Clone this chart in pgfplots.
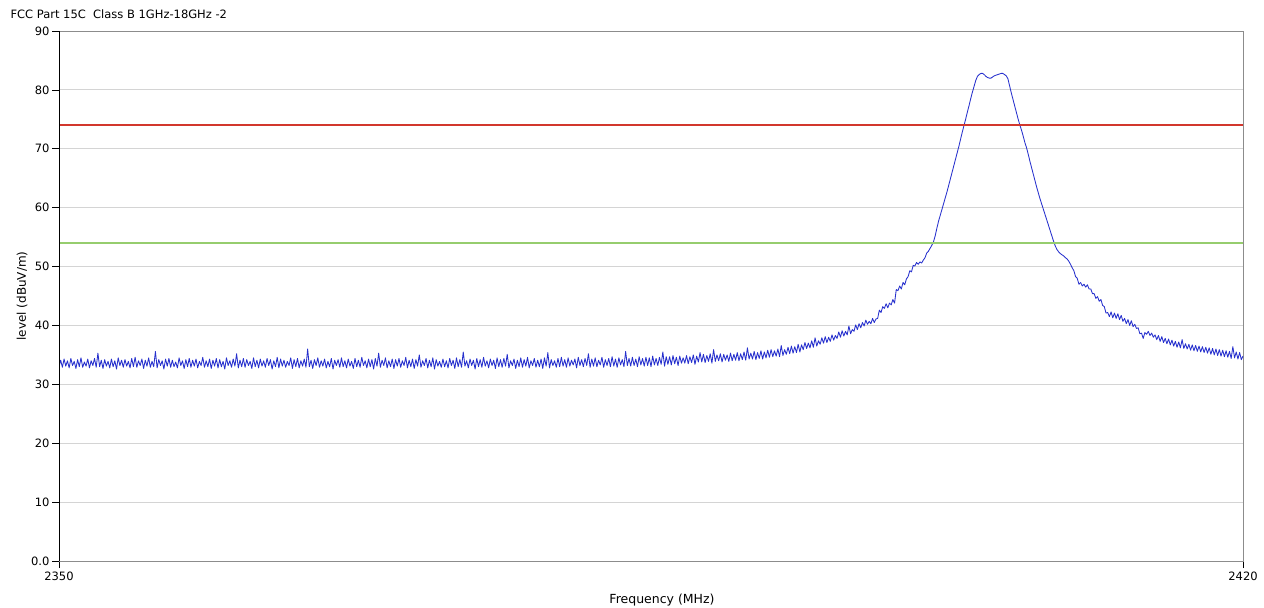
\documentclass[border=0pt]{standalone}
\usepackage{pgfplots}
\pgfplotsset{compat=1.18}
\usepackage{fontspec}
\setmainfont{DejaVu Sans}
\definecolor{trace}{RGB}{38,48,205}
\definecolor{limred}{RGB}{210,55,45}
\definecolor{limgreen}{RGB}{150,205,110}
\definecolor{gridgray}{RGB}{212,212,212}
\definecolor{framegray}{RGB}{140,140,140}
\newcommand{\chartfont}{\fontsize{11.5}{13.5}\selectfont}
\begin{document}
\begin{tikzpicture}
\begin{axis}[
    name=ax,
    scale only axis,
    width=1184pt, height=530pt,
    xmin=2350, xmax=2420, ymin=0, ymax=90,
    xtick={2350,2420},
    ytick={0,10,...,90},
    yticklabels={0.0,10,20,30,40,50,60,70,80,90},
    /pgf/number format/assume math mode=true,
    /pgf/number format/1000 sep={},
    tick pos=left, tick align=outside,
    major tick length=7pt,
    tick style={black, line width=0.6pt},
    ymajorgrids,
    grid style={gridgray, line width=0.8pt},
    axis line style={framegray, line width=0.8pt},
    tick label style={font=\chartfont},
    yticklabel style={xshift=1pt},
    label style={font=\chartfont},
    xlabel={Frequency (MHz)},
    ylabel={level (dBuV/m)},
    every axis x label/.style={at={(axis description cs:0.5,0)}, xshift=11pt, yshift=-42pt, anchor=base, font=\fontsize{12.5}{14}\selectfont},
    every axis y label/.style={at={(axis description cs:0,0.5)}, xshift=-37pt, rotate=90, anchor=center, font=\fontsize{12}{14}\selectfont},
    title={FCC Part 15C\ \ Class B 1GHz-18GHz -2},
    every axis title/.style={at={(axis description cs:0,1)}, xshift=-52pt, yshift=12pt, anchor=base west, font=\chartfont},
]
\addplot[trace, line width=0.85pt, line join=round] coordinates {
(2350.0,33.0)(2350.1,34.1)(2350.2,32.9)(2350.3,34.3)(2350.4,33.1)(2350.5,34.0)(2350.6,32.8)(2350.7,34.4)(2350.8,33.2)(2350.9,33.9)
(2351.0,32.7)(2351.1,34.2)(2351.2,33.0)(2351.3,34.5)(2351.4,32.9)(2351.5,33.8)(2351.6,33.1)(2351.7,34.3)(2351.8,32.8)(2351.9,34.0)
(2352.0,33.2)(2352.1,34.4)(2352.2,32.9)(2352.3,35.3)(2352.4,33.0)(2352.5,34.1)(2352.6,32.7)(2352.7,34.2)(2352.8,33.1)(2352.9,33.9)
(2353.0,32.8)(2353.1,34.3)(2353.2,33.0)(2353.3,34.0)(2353.4,32.6)(2353.5,34.5)(2353.6,33.2)(2353.7,34.1)(2353.8,32.9)(2353.9,34.2)
(2354.0,33.1)(2354.1,33.9)(2354.2,32.8)(2354.3,34.4)(2354.4,33.0)(2354.5,34.6)(2354.6,32.9)(2354.7,34.0)(2354.8,33.2)(2354.9,34.3)
(2355.0,32.7)(2355.1,34.1)(2355.2,33.1)(2355.3,34.5)(2355.4,32.9)(2355.5,33.9)(2355.6,33.0)(2355.7,35.6)(2355.8,32.8)(2355.9,34.2)
(2356.0,33.2)(2356.1,34.0)(2356.2,32.6)(2356.3,34.3)(2356.4,33.1)(2356.5,34.4)(2356.6,32.9)(2356.7,34.1)(2356.8,33.0)(2356.9,33.8)
(2357.0,32.8)(2357.1,34.5)(2357.2,33.2)(2357.3,34.0)(2357.4,32.7)(2357.5,34.2)(2357.6,33.0)(2357.7,34.4)(2357.8,32.9)(2357.9,34.1)
(2358.0,33.1)(2358.1,34.3)(2358.2,32.8)(2358.3,33.9)(2358.4,33.2)(2358.5,34.6)(2358.6,32.9)(2358.7,34.0)(2358.8,33.0)(2358.9,34.3)
(2359.0,32.7)(2359.1,34.1)(2359.2,33.1)(2359.3,34.4)(2359.4,32.8)(2359.5,34.2)(2359.6,33.0)(2359.7,33.9)(2359.8,32.6)(2359.9,34.5)
(2360.0,33.2)(2360.1,34.0)(2360.2,32.9)(2360.3,34.3)(2360.4,33.1)(2360.5,35.2)(2360.6,32.8)(2360.7,34.1)(2360.8,33.0)(2360.9,34.4)
(2361.0,32.9)(2361.1,34.2)(2361.2,33.2)(2361.3,33.9)(2361.4,32.7)(2361.5,34.5)(2361.6,33.0)(2361.7,34.1)(2361.8,32.8)(2361.9,34.3)
(2362.0,33.1)(2362.1,34.0)(2362.2,32.9)(2362.3,34.4)(2362.4,33.2)(2362.5,34.2)(2362.6,32.6)(2362.7,34.0)(2362.8,33.0)(2362.9,34.6)
(2363.0,32.8)(2363.1,34.3)(2363.2,33.1)(2363.3,34.1)(2363.4,32.9)(2363.5,33.9)(2363.6,33.2)(2363.7,34.5)(2363.8,32.7)(2363.9,34.2)
(2364.0,33.0)(2364.1,34.4)(2364.2,32.8)(2364.3,34.0)(2364.4,33.1)(2364.5,34.3)(2364.6,32.9)(2364.7,36.0)(2364.8,33.0)(2364.9,34.1)
(2365.0,32.7)(2365.1,34.2)(2365.2,33.2)(2365.3,34.5)(2365.4,32.9)(2365.5,34.0)(2365.6,33.1)(2365.7,34.3)(2365.8,32.8)(2365.9,33.9)
(2366.0,33.0)(2366.1,34.4)(2366.2,32.6)(2366.3,34.1)(2366.4,33.2)(2366.5,34.2)(2366.6,32.9)(2366.7,34.5)(2366.8,33.0)(2366.9,34.0)
(2367.0,32.8)(2367.1,34.3)(2367.2,33.1)(2367.3,33.9)(2367.4,32.7)(2367.5,34.4)(2367.6,33.0)(2367.7,34.1)(2367.8,32.9)(2367.9,34.6)
(2368.0,33.2)(2368.1,34.0)(2368.2,32.8)(2368.3,34.3)(2368.4,33.0)(2368.5,34.2)(2368.6,32.6)(2368.7,34.4)(2368.8,33.1)(2368.9,35.3)
(2369.0,32.9)(2369.1,34.1)(2369.2,33.2)(2369.3,34.5)(2369.4,32.8)(2369.5,34.0)(2369.6,33.0)(2369.7,34.3)(2369.8,32.7)(2369.9,34.2)
(2370.0,33.1)(2370.1,34.4)(2370.2,32.9)(2370.3,34.0)(2370.4,33.2)(2370.5,34.6)(2370.6,32.8)(2370.7,34.1)(2370.8,33.0)(2370.9,34.3)
(2371.0,32.7)(2371.1,34.2)(2371.2,33.1)(2371.3,35.0)(2371.4,32.9)(2371.5,34.0)(2371.6,33.2)(2371.7,34.4)(2371.8,32.8)(2371.9,34.1)
(2372.0,33.0)(2372.1,34.5)(2372.2,32.6)(2372.3,34.2)(2372.4,33.1)(2372.5,33.9)(2372.6,32.9)(2372.7,34.3)(2372.8,33.0)(2372.9,34.0)
(2373.0,32.8)(2373.1,34.4)(2373.2,33.2)(2373.3,34.1)(2373.4,32.7)(2373.5,34.5)(2373.6,33.0)(2373.7,34.2)(2373.8,32.9)(2373.9,35.5)
(2374.0,33.1)(2374.1,34.0)(2374.2,32.8)(2374.3,34.3)(2374.4,33.2)(2374.5,34.1)(2374.6,32.6)(2374.7,34.4)(2374.8,33.0)(2374.9,34.2)
(2375.0,32.9)(2375.1,34.6)(2375.2,33.1)(2375.3,34.0)(2375.4,32.8)(2375.5,34.3)(2375.6,33.2)(2375.7,34.1)(2375.8,32.7)(2375.9,34.5)
(2376.0,33.0)(2376.1,34.2)(2376.2,32.9)(2376.3,34.4)(2376.4,33.1)(2376.5,35.1)(2376.6,32.8)(2376.7,34.0)(2376.8,33.2)(2376.9,34.3)
(2377.0,32.7)(2377.1,34.1)(2377.2,33.0)(2377.3,34.5)(2377.4,32.9)(2377.5,34.2)(2377.6,33.1)(2377.7,34.6)(2377.8,32.8)(2377.9,34.0)
(2378.0,33.2)(2378.1,34.4)(2378.2,32.9)(2378.3,34.1)(2378.4,33.0)(2378.5,34.3)(2378.6,32.7)(2378.7,34.5)(2378.8,33.1)(2378.9,35.4)
(2379.0,32.8)(2379.1,34.2)(2379.2,33.2)(2379.3,34.0)(2379.4,32.9)(2379.5,34.4)(2379.6,33.0)(2379.7,34.6)(2379.8,33.1)(2379.9,34.2)
(2380.0,32.9)(2380.1,34.5)(2380.2,33.1)(2380.3,34.1)(2380.4,33.3)(2380.5,34.3)(2380.6,32.8)(2380.7,34.6)(2380.8,33.2)(2380.9,34.2)
(2381.0,33.0)(2381.1,34.4)(2381.2,33.2)(2381.3,35.2)(2381.4,32.9)(2381.5,34.3)(2381.6,33.1)(2381.7,34.5)(2381.8,33.0)(2381.9,34.1)
(2382.0,33.3)(2382.1,34.6)(2382.2,32.9)(2382.3,34.2)(2382.4,33.2)(2382.5,34.4)(2382.6,33.0)(2382.7,34.7)(2382.8,33.1)(2382.9,34.3)
(2383.0,32.9)(2383.1,34.5)(2383.2,33.3)(2383.3,34.2)(2383.4,33.0)(2383.5,35.6)(2383.6,33.2)(2383.7,34.4)(2383.8,33.1)(2383.9,34.6)
(2384.0,33.2)(2384.1,34.3)(2384.2,33.0)(2384.3,34.7)(2384.4,33.3)(2384.5,34.4)(2384.6,33.1)(2384.7,34.6)(2384.8,33.2)(2384.9,34.5)
(2385.0,33.0)(2385.1,34.8)(2385.2,33.3)(2385.3,34.4)(2385.4,33.2)(2385.5,34.6)(2385.6,33.4)(2385.7,35.5)(2385.8,33.1)(2385.9,34.7)
(2386.0,33.4)(2386.1,34.7)(2386.2,33.3)(2386.3,34.9)(2386.4,33.5)(2386.5,34.6)(2386.6,33.2)(2386.7,34.8)(2386.8,33.6)(2386.9,34.5)
(2387.0,33.6)(2387.1,34.9)(2387.2,33.5)(2387.3,34.7)(2387.4,33.7)(2387.5,35.0)(2387.6,33.4)(2387.7,34.8)(2387.8,33.8)(2387.9,35.4)
(2388.0,33.8)(2388.1,35.1)(2388.2,33.7)(2388.3,34.9)(2388.4,33.9)(2388.5,35.2)(2388.6,33.6)(2388.7,35.9)(2388.8,33.9)(2388.9,35.0)
(2389.0,34.0)(2389.1,35.2)(2389.2,33.8)(2389.3,35.1)(2389.4,34.1)(2389.5,35.0)(2389.6,33.9)(2389.7,35.3)(2389.8,34.0)(2389.9,35.1)
(2390.0,34.1)(2390.1,35.4)(2390.2,34.0)(2390.3,35.2)(2390.4,34.2)(2390.5,35.5)(2390.6,34.1)(2390.7,36.2)(2390.8,34.3)(2390.9,35.3)
(2391.0,34.3)(2391.1,35.6)(2391.2,34.2)(2391.3,35.4)(2391.4,34.4)(2391.5,35.7)(2391.6,34.3)(2391.7,35.5)(2391.8,34.5)(2391.9,35.8)
(2392.0,34.6)(2392.1,35.9)(2392.2,34.7)(2392.3,35.7)(2392.4,34.8)(2392.5,36.0)(2392.6,34.7)(2392.7,36.6)(2392.8,34.9)(2392.9,35.9)
(2393.0,35.1)(2393.1,36.3)(2393.2,35.2)(2393.3,36.5)(2393.4,35.3)(2393.5,36.4)(2393.6,35.4)(2393.7,36.8)(2393.8,35.5)(2393.9,36.7)
(2394.0,35.9)(2394.1,37.1)(2394.2,36.1)(2394.3,37.0)(2394.4,36.2)(2394.5,37.4)(2394.6,36.3)(2394.7,37.9)(2394.8,36.5)(2394.9,37.4)
(2395.0,36.8)(2395.1,37.9)(2395.2,37.0)(2395.3,38.1)(2395.4,37.1)(2395.5,38.0)(2395.6,37.3)(2395.7,38.4)(2395.8,37.5)(2395.9,38.3)
(2396.0,37.8)(2396.1,38.9)(2396.2,38.0)(2396.3,39.1)(2396.4,38.2)(2396.5,39.0)(2396.6,38.4)(2396.7,39.9)(2396.8,38.6)(2396.9,39.3)
(2397.0,39.0)(2397.1,40.1)(2397.2,39.3)(2397.3,40.3)(2397.4,39.6)(2397.5,40.5)(2397.6,39.9)(2397.7,40.9)(2397.8,40.2)(2397.9,40.7)
(2398.0,40.3)(2398.1,41.2)(2398.2,40.5)(2398.3,41.1)(2398.4,41.2)(2398.5,42.6)(2398.6,42.2)(2398.7,43.2)(2398.8,42.9)(2398.9,43.7)
(2399.0,43.0)(2399.1,43.8)(2399.2,43.5)(2399.3,44.4)(2399.4,43.8)(2399.5,46.1)(2399.6,45.9)(2399.7,46.7)(2399.8,46.2)(2399.9,47.3)
(2400.0,46.9)(2400.1,47.9)(2400.2,48.3)(2400.3,49.3)(2400.4,49.1)(2400.5,50.2)(2400.6,50.1)(2400.7,50.7)(2400.8,50.4)(2400.9,50.8)
(2401.0,50.6)(2401.1,51.1)(2401.2,51.5)(2401.3,52.3)(2401.4,52.6)(2401.5,53.1)(2401.6,53.6)(2401.7,54.2)(2401.8,55.2)(2401.9,56.5)
(2402.0,57.7)(2402.1,58.7)(2402.2,59.7)(2402.3,60.7)(2402.4,61.7)(2402.5,62.7)(2402.6,63.8)(2402.7,64.9)(2402.8,66.0)(2402.9,67.1)
(2403.0,68.2)(2403.1,69.3)(2403.2,70.4)(2403.3,71.6)(2403.4,72.8)(2403.5,73.9)(2403.6,75.0)(2403.7,76.2)(2403.8,77.3)(2403.9,78.5)
(2404.0,79.6)(2404.1,80.6)(2404.2,81.6)(2404.3,82.3)(2404.4,82.6)(2404.5,82.8)(2404.6,82.8)(2404.7,82.6)(2404.8,82.3)(2404.9,82.1)
(2405.0,82.0)(2405.1,82.0)(2405.2,82.2)(2405.3,82.4)(2405.4,82.5)(2405.5,82.6)(2405.6,82.7)(2405.7,82.8)(2405.8,82.8)(2405.9,82.6)
(2406.0,82.4)(2406.1,81.9)(2406.2,80.7)(2406.3,79.5)(2406.4,78.4)(2406.5,77.3)(2406.6,76.2)(2406.7,75.1)(2406.8,74.1)(2406.9,73.2)
(2407.0,72.2)(2407.1,71.1)(2407.2,70.2)(2407.3,69.1)(2407.4,67.9)(2407.5,66.8)(2407.6,65.7)(2407.7,64.6)(2407.8,63.5)(2407.9,62.5)
(2408.0,61.5)(2408.1,60.6)(2408.2,59.7)(2408.3,58.8)(2408.4,57.9)(2408.5,57.0)(2408.6,56.1)(2408.7,55.2)(2408.8,54.3)(2408.9,53.5)
(2409.0,52.9)(2409.1,52.5)(2409.2,52.2)(2409.3,52.0)(2409.4,51.8)(2409.5,51.5)(2409.6,51.3)(2409.7,50.9)(2409.8,50.4)(2409.9,49.8)
(2410.0,49.3)(2410.1,48.3)(2410.2,48.0)(2410.3,47.0)(2410.4,47.3)(2410.5,46.7)(2410.6,47.0)(2410.7,46.5)(2410.8,46.9)(2410.9,46.2)
(2411.0,46.2)(2411.1,45.4)(2411.2,45.4)(2411.3,44.6)(2411.4,44.9)(2411.5,44.1)(2411.6,44.4)(2411.7,43.4)(2411.8,43.2)(2411.9,42.1)
(2412.0,42.2)(2412.1,41.5)(2412.2,42.3)(2412.3,41.3)(2412.4,42.1)(2412.5,41.2)(2412.6,42.0)(2412.7,41.0)(2412.8,41.7)(2412.9,40.7)
(2413.0,41.2)(2413.1,40.3)(2413.2,41.0)(2413.3,40.0)(2413.4,40.8)(2413.5,39.8)(2413.6,40.2)(2413.7,39.5)(2413.8,39.6)(2413.9,38.6)
(2414.0,38.7)(2414.1,37.8)(2414.2,38.8)(2414.3,38.5)(2414.4,39.0)(2414.5,38.3)(2414.6,38.7)(2414.7,38.0)(2414.8,38.4)(2414.9,37.6)
(2415.0,38.3)(2415.1,37.3)(2415.2,38.1)(2415.3,37.1)(2415.4,37.8)(2415.5,36.9)(2415.6,37.7)(2415.7,36.7)(2415.8,37.5)(2415.9,36.5)
(2416.0,37.3)(2416.1,36.3)(2416.2,37.2)(2416.3,36.2)(2416.4,37.6)(2416.5,36.1)(2416.6,36.9)(2416.7,36.0)(2416.8,36.8)(2416.9,35.8)
(2417.0,36.7)(2417.1,35.7)(2417.2,36.6)(2417.3,35.6)(2417.4,36.5)(2417.5,35.5)(2417.6,36.4)(2417.7,35.4)(2417.8,36.3)(2417.9,35.3)
(2418.0,36.2)(2418.1,35.1)(2418.2,36.1)(2418.3,35.0)(2418.4,36.0)(2418.5,34.9)(2418.6,35.9)(2418.7,34.8)(2418.8,35.8)(2418.9,34.7)
(2419.0,35.7)(2419.1,34.6)(2419.2,35.6)(2419.3,34.4)(2419.4,36.4)(2419.5,34.5)(2419.6,35.5)(2419.7,34.3)(2419.8,35.4)(2419.9,34.2)
(2420.0,34.8)
};
\addplot[color=limred, mark=none, line width=1.5pt] coordinates {(2350,74) (2420,74)};
\addplot[color=limgreen, mark=none, line width=1.3pt] coordinates {(2350,54) (2420,54)};
\draw[black, line width=0.9pt] (rel axis cs:0,0) -- (rel axis cs:0,1);
\end{axis}
\pgfresetboundingbox
\path ([shift={(-59pt,-46pt)}]ax.south west) rectangle ([shift={(21pt,31pt)}]ax.north east);
\end{tikzpicture}
\end{document}
